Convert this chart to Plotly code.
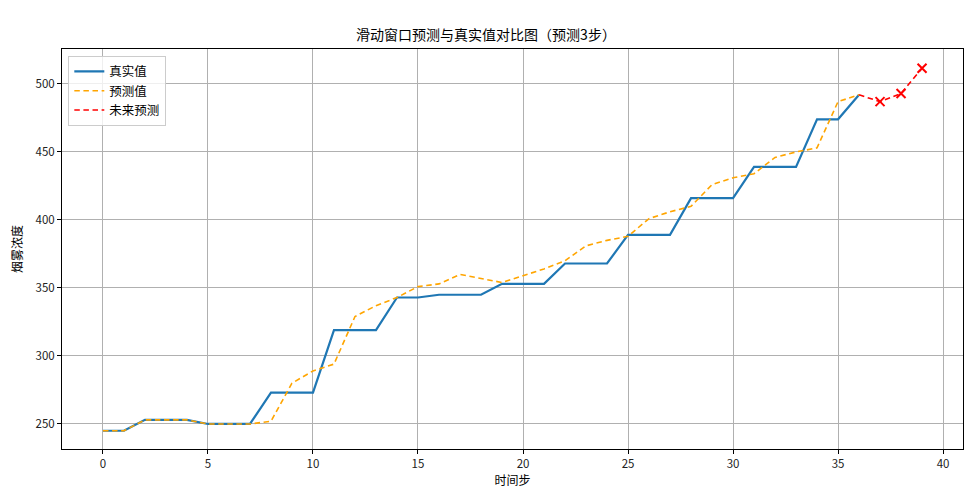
import plotly.graph_objects as go

true_x = list(range(0, 37))
true_vals = [245, 245, 253, 253, 253, 250, 250, 250, 273, 273, 273, 319, 319, 319,
             343, 343, 345, 345, 345, 353, 353, 353, 368, 368, 368, 389, 389, 389,
             416, 416, 416, 439, 439, 439, 474, 474, 492]
pred_x = list(range(0, 37))
pred_vals = [245, 245, 253, 253, 253, 250, 250, 250, 252, 280, 289, 294, 329, 337,
             343, 351, 353, 360, 357, 354, 359, 364, 370, 381, 385, 388, 401, 406,
             410, 426, 431, 434, 446, 450, 453, 487, 492]
future_x = [36, 37, 38, 39]
future_vals = [492, 487, 493, 511.5]

title = "滑动窗口预测与真实值对比图（预测3步）"
x_label = "时间步"
y_label = "烟雾浓度"
x_ticks = [0, 5, 10, 15, 20, 25, 30, 35, 40]
y_ticks = [250, 300, 350, 400, 450, 500]

FONT = "Noto Sans CJK SC, SimHei, sans-serif"

fig = go.Figure()
fig.add_trace(go.Scatter(x=true_x, y=true_vals, mode="lines", name="真实值",
                         line=dict(color="#1f77b4", width=2.2)))
fig.add_trace(go.Scatter(x=pred_x, y=pred_vals, mode="lines", name="预测值",
                         line=dict(color="orange", width=1.6, dash="5.5px,3.6px")))
fig.add_trace(go.Scatter(x=future_x, y=future_vals, mode="lines", name="未来预测",
                         line=dict(color="red", width=1.6, dash="5.5px,3.6px")))
fig.add_trace(go.Scatter(x=future_x[1:], y=future_vals[1:], mode="markers",
                         showlegend=False,
                         marker=dict(symbol="x-thin", size=9, color="red",
                                     line=dict(color="red", width=2))))

axis_common = dict(showgrid=True, gridcolor="#b0b0b0", gridwidth=1,
                   showline=True, linecolor="black", linewidth=1, mirror=True,
                   ticks="outside", ticklen=4, tickcolor="black", automargin=False,
                   zeroline=False, tickfont=dict(size=11.5, color="#222"))

fig.update_layout(
    width=972, height=495,
    margin=dict(l=62, r=9, t=49, b=46),
    paper_bgcolor="white", plot_bgcolor="white",
    font=dict(family=FONT, color="black", size=12),
    title=dict(text=title, x=0.5, xanchor="center", y=1 - 35 / 495, yanchor="middle",
               font=dict(size=14, family=FONT)),
    xaxis=dict(range=[-1.95, 40.95], tickvals=x_ticks,
               title=dict(text=x_label, standoff=4, font=dict(size=12)), **axis_common),
    yaxis=dict(range=[231.6, 525.7], tickvals=y_ticks,
               title=dict(text=y_label, standoff=10, font=dict(size=12)), **axis_common),
    legend=dict(x=0.007, y=0.983, xanchor="left", yanchor="top",
                bgcolor="rgba(255,255,255,0.8)", bordercolor="#cccccc", borderwidth=1,
                font=dict(size=12.5, family=FONT), tracegroupgap=0, itemwidth=30),
)

fig.write_html("out.html", config={"displayModeBar": False},
               post_script="document.body.style.margin='0';document.body.style.padding='0';")
